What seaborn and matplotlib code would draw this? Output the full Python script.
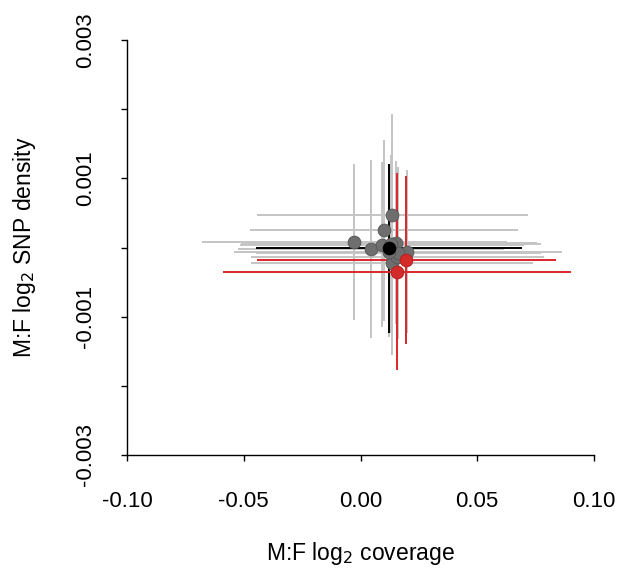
import matplotlib
matplotlib.use("Agg")
import matplotlib.pyplot as plt
import seaborn as sns
import pandas as pd

# ---- data ----
gray_x    = [0.0136, 0.0100, -0.0026, 0.0045, 0.0092, 0.0150, 0.0200, 0.0136, 0.0158, 0.0162, 0.0131, 0.0124]
gray_y    = [0.00047, 0.00025, 0.00008, -0.00002, 0.00004, 0.00007, -0.00006, -0.00022, -0.00014, -0.00008, 0.00005, -0.00007]
gray_xerr = [0.0580, 0.0573, 0.0652, 0.0568, 0.0607, 0.0608, 0.0662, 0.0603, 0.0628, 0.0611, 0.0641, 0.0667]
gray_yerr = [0.00146, 0.00131, 0.00113, 0.00129, 0.00119, 0.00118, 0.00118, 0.00134, 0.00124, 0.00124, 0.00129, 0.00123]

black_x, black_y, black_xerr, black_yerr = [0.0122], [-0.00001], [0.0568], [0.00122]

red_x    = [0.0197, 0.0157]
red_y    = [-0.00018, -0.00035]
red_xerr = [0.0641, 0.0744]
red_yerr = [0.00121, 0.00142]

x_ticks = [-0.10, -0.05, 0.00, 0.05, 0.10]
x_tick_labels = ["-0.10", "-0.05", "0.00", "0.05", "0.10"]
y_ticks = [-0.003, -0.002, -0.001, 0.0, 0.001, 0.002, 0.003]
y_tick_labels = ["-0.003", "", "-0.001", "", "0.001", "", "0.003"]

sns.set_style("ticks")
plt.rcParams["font.family"] = ["Liberation Sans", "DejaVu Sans"]
plt.rcParams["text.color"] = "black"
plt.rcParams["axes.labelcolor"] = "black"
plt.rcParams["xtick.color"] = "black"
plt.rcParams["ytick.color"] = "black"

fig = plt.figure(figsize=(6.37, 5.70), dpi=100)
ax = fig.add_axes([127/637, 1-455/570, (594-127)/637, (455-40)/570])

groups = [
    (gray_x, gray_y, gray_xerr, gray_yerr, "#c4c4c4", "#6e6e6e", "#555555"),
    (black_x, black_y, black_xerr, black_yerr, "#000000", "#000000", "#000000"),
    (red_x, red_y, red_xerr, red_yerr, "#d9262b", "#d32a2a", "#b01e1e"),
]
for gx, gy, gxe, gye, lc, fc, ec in groups:
    ax.errorbar(gx, gy, xerr=gxe, yerr=gye, fmt="none", ecolor=lc,
                elinewidth=1.4, capsize=0, zorder=2)
    df = pd.DataFrame({"x": gx, "y": gy})
    sns.scatterplot(data=df, x="x", y="y", ax=ax, s=85, color=fc,
                    edgecolor=ec, linewidth=0.6, zorder=3, legend=False)

ax.set_xlim(-0.1, 0.1)
ax.set_ylim(-0.003, 0.003)
ax.set_xticks(x_ticks)
ax.set_xticklabels(x_tick_labels)
ax.set_yticks(y_ticks)
ax.set_yticklabels(y_tick_labels, rotation=90, va="center")
ax.tick_params(axis="both", direction="out", length=4, width=1, labelsize=16,
               color="black", labelcolor="black")
ax.tick_params(axis="x", pad=22)
ax.tick_params(axis="y", pad=18)
for s in ["top", "right"]:
    ax.spines[s].set_visible(False)
for s in ["left", "bottom"]:
    ax.spines[s].set_linewidth(1)
    ax.spines[s].set_color("black")

ax.set_xlabel(r"M:F log$_2$ coverage", fontsize=16.5, labelpad=20, color="black")
ax.set_ylabel(r"M:F log$_2$ SNP density", fontsize=16.5, labelpad=27, color="black")

fig.savefig("out.png", dpi=100)
